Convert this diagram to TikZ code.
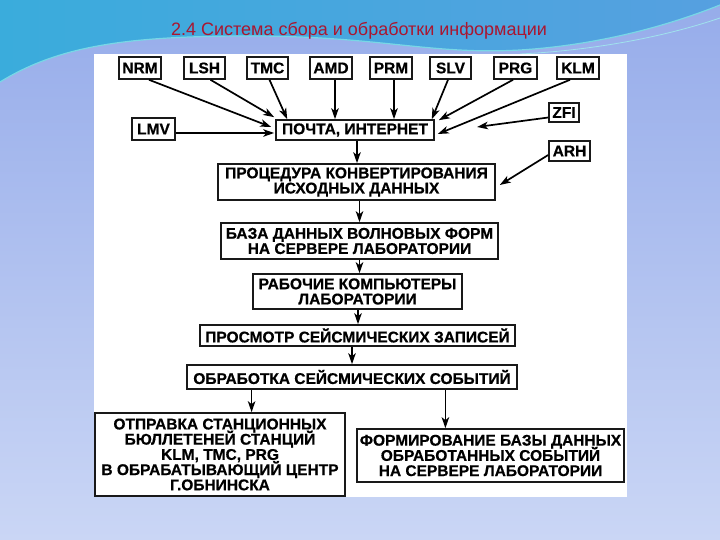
\documentclass[tikz,border=0pt]{standalone}
\usepackage{fontspec}
\setmainfont{Liberation Sans}
\newfontfamily\bxfont[BoldFeatures={FakeBold=0.6}]{Liberation Sans}
\usetikzlibrary{arrows.meta}
\definecolor{ttl}{RGB}{170,22,48}
\definecolor{lavA}{RGB}{150,172,234}
\definecolor{lavB}{RGB}{202,214,245}
\definecolor{skyA}{RGB}{58,172,220}
\definecolor{skyB}{RGB}{74,146,214}
\definecolor{skyC}{RGB}{86,160,224}
\definecolor{waveline}{RGB}{120,215,230}
\newcommand\mkbox[6]{\node[boxst, minimum width={(#4-#2)*1pt}, minimum height={(#5-#3)*1pt}] (#1) at ({(#2+#4)/2},{(#3+#5)/2}) {#6};}
\begin{document}
\begin{tikzpicture}[x=1pt,y=-1pt,
  boxst/.style={draw=black!90, line width=1.6pt, fill=white, inner sep=0pt, align=center,
    font={\bxfont\bfseries\fontsize{15.5}{15.2}\selectfont\lineskiplimit=-100pt\lineskip=0pt}},
  arr/.style={line width=1.7pt, -{Stealth[length=11pt,width=7.5pt,inset=3pt]}}]
\useasboundingbox (0,0) rectangle (720,540);
% background
\shade[top color=lavA, bottom color=lavB] (0,0) rectangle (720,540);
\shade[left color=skyA, middle color=skyB, right color=skyC]
  (0,0) -- (720,0) -- (720,5) .. controls (670,25) and (600,45) .. (520,50)
  .. controls (430,55) and (380,36) .. (250,36)
  .. controls (130,36) and (60,45) .. (0,82) -- cycle;
\draw[waveline, line width=1.2pt] (720,5) .. controls (670,25) and (600,45) .. (520,50)
  .. controls (430,55) and (380,36) .. (250,36)
  .. controls (130,36) and (60,45) .. (0,82);
\draw[waveline!70!white, line width=0.8pt] (720,18) .. controls (670,35) and (600,50) .. (520,54);
% title
\node[text=ttl, font=\fontsize{18}{21}\selectfont, anchor=base, inner sep=0pt] (title) at (359,35.5)
  {2.4 Система сбора и обработки информации};
% panel
\fill[white] (94,54) rectangle (627,497);
% source boxes
\mkbox{nrm}{119}{57}{161}{79}{NRM}
\mkbox{lsh}{184}{57}{225}{79}{LSH}
\mkbox{tmc}{247}{57}{288}{79}{TMC}
\mkbox{amd}{310}{57}{352}{79}{AMD}
\mkbox{prm}{370}{57}{412}{79}{PRM}
\mkbox{slv}{430}{57}{471}{79}{SLV}
\mkbox{prg}{494}{57}{537}{79}{PRG}
\mkbox{klm}{557}{57}{599}{79}{KLM}
\mkbox{lmv}{132}{118}{175}{140}{LMV}
\mkbox{zfi}{549}{103}{579}{122}{ZFI}
\mkbox{arh}{549}{141}{590}{161}{ARH}
% main boxes
\mkbox{post}{276}{120}{434}{140}{ПОЧТА, ИНТЕРНЕТ}
\mkbox{proc}{218}{164}{495}{200}{ПРОЦЕДУРА КОНВЕРТИРОВАНИЯ\\ИСХОДНЫХ ДАННЫХ}
\mkbox{wdb}{221}{223}{498}{259}{БАЗА ДАННЫХ ВОЛНОВЫХ ФОРМ\\НА СЕРВЕРЕ ЛАБОРАТОРИИ}
\mkbox{ws}{253}{274}{462}{309}{РАБОЧИЕ КОМПЬЮТЕРЫ\\ЛАБОРАТОРИИ}
\mkbox{view}{200}{325}{515}{346}{ПРОСМОТР СЕЙСМИЧЕСКИХ ЗАПИСЕЙ}
\mkbox{proc2}{187}{365}{517}{389}{ОБРАБОТКА СЕЙСМИЧЕСКИХ СОБЫТИЙ}
\mkbox{send}{95}{413}{345}{496}{ОТПРАВКА СТАНЦИОННЫХ\\БЮЛЛЕТЕНЕЙ СТАНЦИЙ\\KLM, TMC, PRG\\В ОБРАБАТЫВАЮЩИЙ ЦЕНТР\\Г.ОБНИНСКА}
\mkbox{evdb}{357}{429}{624}{482}{ФОРМИРОВАНИЕ БАЗЫ ДАННЫХ\\ОБРАБОТАННЫХ СОБЫТИЙ\\НА СЕРВЕРЕ ЛАБОРАТОРИИ}
% helper coordinates
\coordinate (amdA) at ([xshift=4pt]amd.south);
\coordinate (prmA) at ([xshift=3pt]prm.south);
\coordinate (postS) at ([xshift=2pt]post.south);
\coordinate (wdbS) at (wdb.south);
\coordinate (wsS) at ([xshift=0.5pt]ws.south);
\coordinate (lftA) at ([xshift=-100.4pt]proc2.south);
\coordinate (rgtA) at ([xshift=93.4pt]proc2.south);
\coordinate (zfiEnd) at (477,127);
% arrows into mail
\draw[arr] ([xshift=9pt]nrm.south) -- ([xshift=-4pt,yshift=3pt]post.west);
\draw[arr] ([xshift=6pt]lsh.south) -- ([xshift=-1pt,yshift=2pt]post.north west);
\draw[arr] ([xshift=2pt]tmc.south) -- ([xshift=12pt]post.north west);
\draw[arr] (amdA) -- (amdA |- post.north);
\draw[arr] (prmA) -- (prmA |- post.north);
\draw[arr] ([xshift=-2.5pt]slv.south) -- ([xshift=-3pt]post.north east);
\draw[arr] ([xshift=-2.5pt]prg.south) -- ([xshift=4pt,yshift=-1pt]post.north east);
\draw[arr] ([xshift=-8pt]klm.south) -- ([xshift=3pt,yshift=-4pt]post.east);
\draw[arr] ([yshift=-5pt]zfi.west) -- (zfiEnd);
\draw[arr] ([yshift=-4pt]lmv.east) -- ([xshift=-1pt,yshift=-3pt]post.west);
% chain
\draw[arr] (postS) -- (postS |- proc.north);
\draw[arr] ([yshift=-4pt]arh.west) -- ([xshift=4pt,yshift=-3pt]proc.east);
\draw[arr] (wdb.north |- proc.south) -- (wdb.north);
\draw[arr] (wdbS) -- (wdbS |- ws.north);
\draw[arr] (wsS) -- (wsS |- view.north);
\draw[arr] (proc2.north |- view.south) -- (proc2.north);
\draw[arr] (lftA) -- (lftA |- send.north);
\draw[arr] (rgtA) -- (rgtA |- evdb.north);
\end{tikzpicture}
\end{document}
